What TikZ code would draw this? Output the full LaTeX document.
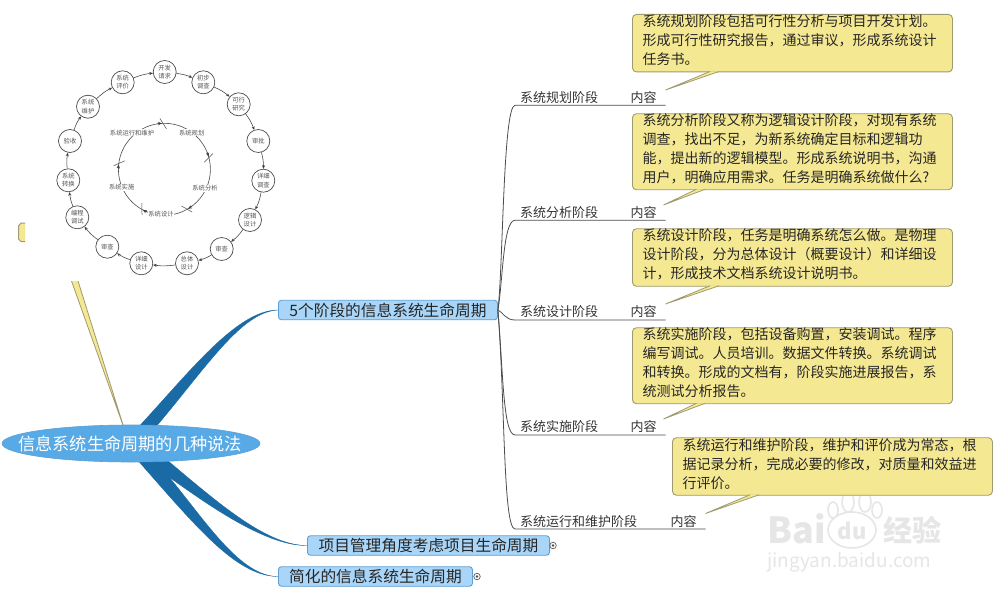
\documentclass[tikz,border=0pt]{standalone}
\usepackage{fontspec}
\setmainfont{Noto Sans CJK SC}
\usetikzlibrary{calc,arrows.meta}
\definecolor{calloutfill}{HTML}{F5E892}
\definecolor{calloutline}{HTML}{A09A70}
\definecolor{topicfill}{HTML}{A9D6F8}
\definecolor{topicline}{HTML}{5E9FD2}
\definecolor{rootfill}{HTML}{58AAE6}
\definecolor{limbblue}{HTML}{1A6AA6}
\definecolor{ringgrey}{HTML}{555555}
\definecolor{markgrey}{HTML}{E6E6E6}
\tikzset{
  x=1pt,y=-1pt,
  topic/.style={draw=topicline,fill=topicfill,line width=0.9pt,rounded corners=3pt,minimum height=19.5pt,inner sep=0pt,text=black!85,anchor=west,font=\fontsize{15.7}{18}\selectfont},
  rootnode/.style={inner sep=0pt,text=white,font=\fontsize{17.2}{20}\selectfont},
  callout/.style={draw=calloutline,fill=calloutfill,line width=0.9pt,rounded corners=4pt,anchor=north west,minimum width=320pt,inner sep=0pt,text width=320pt},
  calltext/.style={anchor=north west,inner sep=0pt,align=left,text=black!85,font=\fontsize{14}{19}\selectfont},
  leaflabel/.style={anchor=west,inner sep=0pt,text=black!80,font=\fontsize{13}{15}\selectfont},
  wedge/.style={fill=calloutfill,draw=calloutline,line width=0.8pt},
  limb/.style={fill=limbblue,draw=limbblue,line width=0.3pt},
  trunk/.style={draw=black!70,line width=0.8pt},
  ringnode/.style={circle,draw=black!70,fill=white,line width=0.7pt,minimum size=23pt,inner sep=0pt,align=center,text=ringgrey,font=\fontsize{6.3}{8.5}\selectfont},
  ringarrow/.style={draw=black!75,line width=0.55pt,-{Stealth[length=3.6pt,width=3pt]}},
  innerlabel/.style={inner sep=0pt,text=ringgrey,font=\fontsize{6.3}{8}\selectfont},
  handle/.style={circle,draw=black!65,fill=white,line width=0.7pt,minimum size=6.5pt,inner sep=0pt,path picture={\fill[black!70] (path picture bounding box.center) circle (1.3pt);}},
  watermark/.style={inner sep=0pt,text=markgrey}
}
\begin{document}
\begin{tikzpicture}
\useasboundingbox (0,0) rectangle (1000,596);
\fill[white] (0,0) rectangle (1000,596);

% watermark
\node[watermark,anchor=west,font=\fontsize{36}{36}\selectfont\bfseries] (wmbai) at (767,529) {Bai};
\node[watermark,font=\fontsize{22}{22}\selectfont\bfseries] (wmdu) at (852,531) {du};
\draw[markgrey,line width=1.6pt] (852,530) ellipse (24 and 18);
\foreach \px/\py/\pa/\pb in {848/502/6/10,865/502/6/10,833/510/5/8,877/510/5/8}
  \draw[markgrey,line width=1.6pt,fill=white] (\px,\py) ellipse (\pa pt and \pb pt);
\node[watermark,anchor=west,font=\fontsize{29}{29}\selectfont\bfseries] (wmcn) at (883,530) {经验};
\node[watermark,anchor=west,font=\fontsize{19}{20}\selectfont] (wmurl) at (767,562) {jingyan.baidu.com};

% long wedge from the hidden callout
\coordinate (hiddenA) at (71.5,281);
\coordinate (hiddenB) at (78,281);
\coordinate (hiddenTip) at (124,428);
\filldraw[wedge] (hiddenA) -- (hiddenTip) -- (hiddenB);
\filldraw[wedge,line width=1pt] (25,223) -- (21,223) -- (18.5,226) -- (18.5,239) -- (21,241.5) -- (25,241.5);

% main nodes
\node[topic,minimum width=219pt,align=center] (t5) at (278,310) {5个阶段的信息系统生命周期};
\node[topic,minimum width=242pt,align=center] (tpm) at (307,545.5) {项目管理角度考虑项目生命周期};
\node[topic,minimum width=194pt,align=center] (tsi) at (278,576.5) {简化的信息系统生命周期};
\node[handle] (hpm) at (553,545.5) {};
\node[handle] (hsi) at (477,576.5) {};

% tapered limbs
\coordinate (ba1) at (131,435);
\coordinate (ba2) at (149,435);
\coordinate (bb1) at (133,455);
\coordinate (bb2) at (161,455);
\coordinate (crotch) at (169,477);
\path[limb] (ba1) .. controls (185,378) and (235,310) .. (t5.west) .. controls (240,312) and (205,370) .. (ba2) -- cycle;
\path[limb] (bb2) .. controls (215,500) and (265,545.5) .. (tpm.west) .. controls (268,546) and (215,510) .. (crotch)
  .. controls (205,520) and (240,576.5) .. (tsi.west) .. controls (235,576) and (195,525) .. (bb1) -- cycle;

\fill[rootfill,draw=topicline,line width=0.6pt] (131,443.5) ellipse (129 and 18.5);
\node[rootnode] (root) at (130,443.5) {信息系统生命周期的几种说法};

% leaf rows
\node[leaflabel] (l1) at (520,97.5) {系统规划阶段};
\node[leaflabel] (c1) at (630.5,97.5) {内容};
\node[leaflabel] (l2) at (520,212.5) {系统分析阶段};
\node[leaflabel] (c2) at (630.5,212.5) {内容};
\node[leaflabel] (l3) at (520,311.5) {系统设计阶段};
\node[leaflabel] (c3) at (630.5,311.5) {内容};
\node[leaflabel] (l4) at (520,427) {系统实施阶段};
\node[leaflabel] (c4) at (630.5,427) {内容};
\node[leaflabel] (l5) at (520,521.5) {系统运行和维护阶段};
\node[leaflabel] (c5) at (670.5,521.5) {内容};

\coordinate (u1) at (665.5,105.3);
\coordinate (u2) at (665.5,220.3);
\coordinate (u3) at (665.5,320);
\coordinate (u4) at (665.5,435);
\coordinate (u5) at (705.5,529);

\draw[trunk] (t5.east) .. controls (503,270) and (503,105.3) .. (515,105.3) -- (u1);
\draw[trunk] (t5.east) .. controls (503,280) and (503,220.3) .. (515,220.3) -- (u2);
\draw[trunk] (t5.east) .. controls (503,312) and (505,320) .. (515,320) -- (u3);
\draw[trunk] (t5.east) .. controls (503,370) and (503,435) .. (515,435) -- (u4);
\draw[trunk] (t5.east) .. controls (505,400) and (503,529) .. (515,529) -- (u5);

% callouts
\node[callout,minimum height=57.5pt] (b1) at (632,14) {};
\node[callout,minimum height=76pt] (b2) at (632,113.3) {};
\node[callout,minimum height=57.5pt] (b3) at (632,228.3) {};
\node[callout,minimum height=76pt] (b4) at (632,327.3) {};
\node[callout,minimum height=57.5pt] (b5) at (672,437.3) {};

\coordinate (w1a) at (710,71.5);\coordinate (w1b) at (719,71.5);\coordinate (w1t) at (665.5,90);
\coordinate (w2a) at (696.5,189.3);\coordinate (w2b) at (705,189.3);\coordinate (w2t) at (663.5,205);
\coordinate (w3a) at (710,285.8);\coordinate (w3b) at (719,285.8);\coordinate (w3t) at (665.5,304);
\coordinate (w4a) at (696.5,403.3);\coordinate (w4b) at (705,403.3);\coordinate (w4t) at (663.5,419);
\coordinate (w5a) at (750,494.8);\coordinate (w5b) at (759,494.8);\coordinate (w5t) at (705.5,513.5);
\foreach \k in {1,...,5}
  \filldraw[wedge] (w\k a) -- (w\k t) -- (w\k b);

\node[calltext] (x1) at (642.5,14.5) {系统规划阶段包括可行性分析与项目开发计划。\\形成可行性研究报告，通过审议，形成系统设计\\任务书。};
\node[calltext] (x2) at (642.5,113) {系统分析阶段又称为逻辑设计阶段，对现有系统\\调查，找出不足，为新系统确定目标和逻辑功\\能，提出新的逻辑模型。形成系统说明书，沟通\\用户，明确应用需求。任务是明确系统做什么?};
\node[calltext] (x3) at (642.5,228.8) {系统设计阶段，任务是明确系统怎么做。是物理\\设计阶段，分为总体设计（概要设计）和详细设\\计，形成技术文档系统设计说明书。};
\node[calltext] (x4) at (642.5,327.8) {系统实施阶段，包括设备购置，安装调试。程序\\编写调试。人员培训。数据文件转换。系统调试\\和转换。形成的文档有，阶段实施进展报告，系\\统测试分析报告。};
\node[calltext] (x5) at (682.5,438.8) {系统运行和维护阶段，维护和评价成为常态，根\\据记录分析，完成必要的修改，对质量和效益进\\行评价。};

% ring diagram
\node[ringnode] (n1) at (164.7,72) {开发\\请求};
\node[ringnode] (n2) at (203.3,82.3) {初步\\调查};
\node[ringnode] (n3) at (238.7,104.3) {可行\\研究};
\node[ringnode] (n4) at (258.3,141) {审批};
\node[ringnode] (n5) at (263.3,180.7) {详细\\调查};
\node[ringnode] (n6) at (250,220) {逻辑\\设计};
\node[ringnode] (n7) at (221.7,249) {审查};
\node[ringnode] (n8) at (187,263.3) {总体\\设计};
\node[ringnode] (n9) at (141.3,263.3) {详细\\设计};
\node[ringnode] (n10) at (107.3,246.7) {审查};
\node[ringnode] (n11) at (77.3,217.3) {编程\\调试};
\node[ringnode] (n12) at (68.3,180.3) {系统\\转换};
\node[ringnode] (n13) at (70,141) {验收};
\node[ringnode] (n14) at (88,106.7) {系统\\维护};
\node[ringnode] (n15) at (122.7,82.3) {系统\\评价};
\foreach \a/\b in {1/2,2/3,3/4,4/5,5/6,6/7,7/8,8/9,9/10,10/11,11/12,12/13,13/14,14/15,15/1}
  \draw[ringarrow] (n\a) to[bend left=8] (n\b);

\coordinate (cc) at (164.4,169.3);
\draw[black!70,line width=0.6pt] (cc) circle (46);
\foreach \t in {91,14,-61,-120,172}{
  \pgfmathsetmacro{\ta}{-\t+4}
  \pgfmathsetmacro{\tb}{-\t-4}
  \draw[black!70,line width=0.5pt] ($(cc)+(\ta:40.5)$) -- ($(cc)+(\tb:51)$);
}
\foreach \s/\e in {99/93,22/16,-53/-59,-112/-118,180/174}{
  \pgfmathsetmacro{\sa}{-\s}
  \pgfmathsetmacro{\ea}{-\e}
  \draw[black!75,line width=0.55pt,-{Stealth[length=4pt,width=3.4pt]}] ($(cc)+(\sa:46)$) arc[start angle=\sa,end angle=\ea,radius=46];
}
\node[innerlabel,fill=white,inner sep=0.5pt] (i1) at (132,132.7) {系统运行和维护};
\node[innerlabel,fill=white,inner sep=0.5pt] (i2) at (191.7,132.7) {系统规划};
\node[innerlabel,fill=white,inner sep=0.5pt] (i3) at (205,188.3) {系统分析};
\node[innerlabel,fill=white,inner sep=0.5pt] (i4) at (161,214.3) {系统设计};
\node[innerlabel,fill=white,inner sep=0.5pt] (i5) at (121.7,187.3) {系统实施};
\end{tikzpicture}
\end{document}
